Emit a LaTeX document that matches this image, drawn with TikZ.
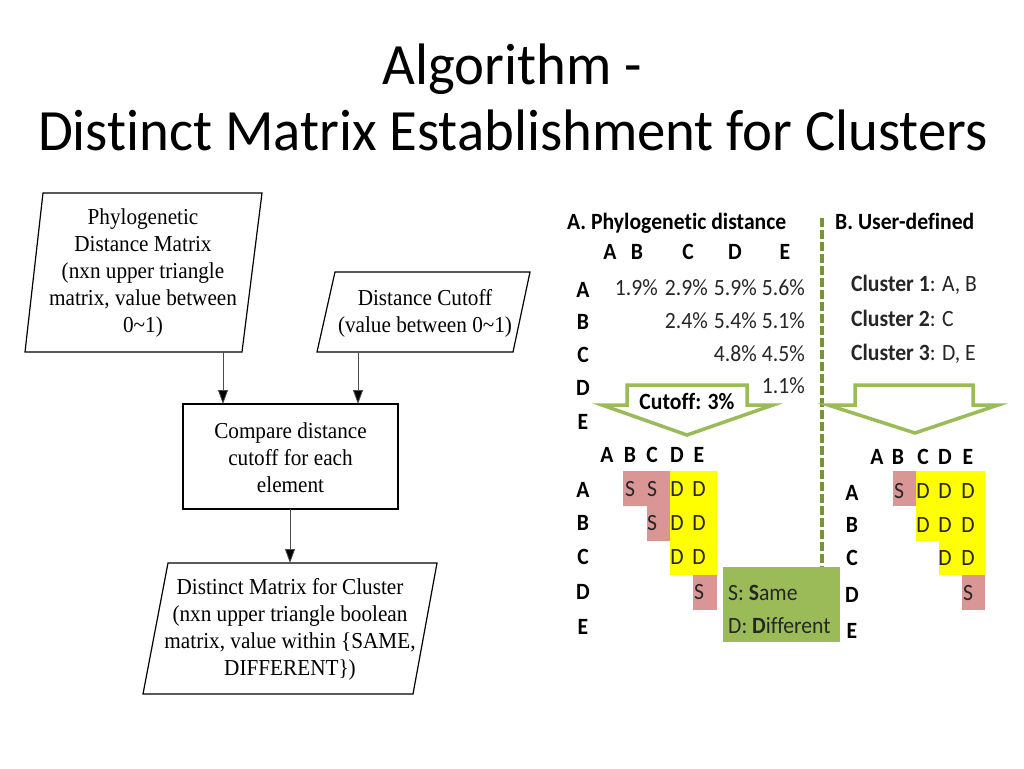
\documentclass[tikz,border=0pt]{standalone}
\usepackage{fontspec}
\setmainfont{Liberation Serif}
\newfontfamily\calibri[Ligatures=NoCommon]{Carlito}
\usetikzlibrary{arrows.meta}
\definecolor{agreen}{HTML}{9BBB59}
\definecolor{dgreen}{HTML}{77933C}
\definecolor{pinkc}{HTML}{D99694}
\definecolor{yelc}{HTML}{FFFF00}
\definecolor{txt}{HTML}{262626}
\begin{document}
\begin{tikzpicture}[x=1pt,y=-1pt,
  sq/.style={xscale=0.93},
  ttl/.style={font=\calibri\fontsize{58.5}{60}\selectfont, inner sep=0pt, anchor=base, xscale=0.97},
  ft/.style={font=\fontsize{22.8}{27}\selectfont, align=center, inner sep=0pt},
  box/.style={draw=black, line width=1.2pt},
  arr/.style={draw=black!70, line width=0.8pt, -{Triangle[length=14pt,width=10pt,fill=black]}},
  hd/.style={font=\calibri\bfseries\fontsize{23.3}{24}\selectfont, inner sep=0pt, text=black, sq},
  val/.style={font=\calibri\fontsize{23.3}{24}\selectfont, inner sep=0pt, anchor=east, text=txt, sq},
  cl/.style={font=\calibri\fontsize{23.3}{24}\selectfont, inner sep=0pt, anchor=base west, text=txt, sq},
  lt/.style={font=\calibri\fontsize{23.3}{24}\selectfont, inner sep=0pt, text=txt, sq},
  bigarrow/.style={draw=agreen, line width=3.5pt, fill=white, line join=miter},
]
\useasboundingbox (0,0) rectangle (1024,768);
\fill[white] (0,0) rectangle (1024,768);

% Title
\node[ttl] (t1) at (512,84) {Algorithm -};
\node[ttl] (t2) at (513,150) {Distinct Matrix Establishment for Clusters};

% ---------- Flowchart ----------
\draw[box] (43,193) -- (262,193) -- (242,352) -- (25,352) -- cycle;
\node[ft, sq] (b1) at (143,273.5) {Phylogenetic\\Distance Matrix\\(nxn upper triangle\\matrix, value between\\0\textasciitilde1)};
\draw[box] (335,272) -- (530,272) -- (513,352) -- (317,352) -- cycle;
\node[ft, sq] (b2) at (425,313) {Distance Cutoff\\(value between 0\textasciitilde1)};
\draw[box] (183,404) rectangle (398,509);
\node[ft, sq] (b3t) at (290.5,458) {Compare distance\\cutoff for each\\element};
\coordinate (b3n) at (290.5,404);
\coordinate (b3s) at (290.5,509);
\draw[box] (168,563) -- (437,563) -- (413,694) -- (143,694) -- cycle;
\node[ft, sq] (b4) at (290,629.5) {Distinct Matrix for Cluster\\(nxn upper triangle boolean\\matrix, value within \{SAME,\\DIFFERENT\})};

\coordinate (b1s) at (223,352);
\coordinate (b2s) at (358,352);
\coordinate (b4n) at (290,563);
\draw[arr] (b1s) -- (b1s |- b3n);
\draw[arr] (b2s) -- (b2s |- b3n);
\draw[arr] (b3s -| b4n) -- (b4n);

% ---------- Right panel ----------
\draw[dgreen, line width=4pt, dash pattern=on 9pt off 3pt] (822,218) -- (822,567);

\node[hd, anchor=base west] (tA) at (567,229) {A. Phylogenetic distance};
\node[hd, anchor=base west] (tB) at (835,229) {B. User-defined};

% top matrix headers
\node[hd] (hA) at (610,252) {A};
\node[hd] (hB) at (637,252) {B};
\node[hd] (hC) at (688,252) {C};
\node[hd] (hD) at (735,252) {D};
\node[hd] (hE) at (785,252) {E};
\node[hd] (rA) at (583,290) {A};
\node[hd] (rB) at (583,322) {B};
\node[hd] (rC) at (583,355) {C};
\node[hd] (rD) at (583,388) {D};
\node[hd] (rE) at (583,422) {E};
% values
\node[val] (vAB) at (658,288) {1.9\%};
\node[val] (vAC) at (708,288) {2.9\%};
\node[val] (vAD) at (757,288) {5.9\%};
\node[val] (vAE) at (805,288) {5.6\%};
\node[val] (vBC) at (708,321) {2.4\%};
\node[val] (vBD) at (757,321) {5.4\%};
\node[val] (vBE) at (805,321) {5.1\%};
\node[val] (vCD) at (757,354) {4.8\%};
\node[val] (vCE) at (805,354) {4.5\%};
\node[val] (vDE) at (805,386) {1.1\%};

% cutoff arrow
\draw[bigarrow] (627,385) -- (747,385) -- (747,405) -- (773,405) -- (687,435) -- (602,405) -- (627,405) -- cycle;
\node[hd] (cut) at (687,401) {Cutoff: 3\%};

% clusters
\node[cl] (c1) at (851,291) {\bfseries Cluster 1\mdseries: A, B};
\node[cl] (c2) at (851,326) {\bfseries Cluster 2\mdseries: C};
\node[cl] (c3) at (851,360) {\bfseries Cluster 3\mdseries: D, E};

% user arrow
\draw[bigarrow] (855,385) -- (973,385) -- (973,405) -- (998,405) -- (915,433) -- (828,405) -- (855,405) -- cycle;

% lower matrix A
\fill[pinkc] (623,471) -- (670,471) -- (670,541) -- (647,541) -- (647,506) -- (623,506) -- cycle;
\fill[yelc] (670,471) rectangle (717,575);
\fill[pinkc] (693,575) rectangle (717,610);
\node[hd] (mAhA) at (607,455) {A};
\node[hd] (mAhB) at (630,455) {B};
\node[hd] (mAhC) at (652,455) {C};
\node[hd] (mAhD) at (677,455) {D};
\node[hd] (mAhE) at (699,455) {E};
\node[hd] (mArA) at (583,490) {A};
\node[hd] (mArB) at (583,523) {B};
\node[hd] (mArC) at (583,557) {C};
\node[hd] (mArD) at (583,592) {D};
\node[hd] (mArE) at (583,627) {E};
\node[lt] (aAB) at (630,489) {S};
\node[lt] (aAC) at (652,489) {S};
\node[lt] (aAD) at (677,489) {D};
\node[lt] (aAE) at (699,489) {D};
\node[lt] (aBC) at (652,523) {S};
\node[lt] (aBD) at (677,523) {D};
\node[lt] (aBE) at (699,523) {D};
\node[lt] (aCD) at (677,557) {D};
\node[lt] (aCE) at (699,557) {D};
\node[lt] (aDE) at (699,592) {S};

% lower matrix B
\fill[pinkc] (893,471) rectangle (916,506);
\fill[yelc] (916,471) -- (985,471) -- (985,575) -- (939,575) -- (939,541) -- (916,541) -- cycle;
\fill[pinkc] (962,575) rectangle (985,610);
\node[hd] (mBhA) at (877,457) {A};
\node[hd] (mBhB) at (898,457) {B};
\node[hd] (mBhC) at (923,457) {C};
\node[hd] (mBhD) at (945,457) {D};
\node[hd] (mBhE) at (968,457) {E};
\node[hd] (mBrA) at (852,493) {A};
\node[hd] (mBrB) at (852,525) {B};
\node[hd] (mBrC) at (852,558) {C};
\node[hd] (mBrD) at (852,595) {D};
\node[hd] (mBrE) at (852,631) {E};
\node[lt] (bAB) at (899,491) {S};
\node[lt] (bAC) at (923,491) {D};
\node[lt] (bAD) at (945,491) {D};
\node[lt] (bAE) at (968,491) {D};
\node[lt] (bBC) at (923,525) {D};
\node[lt] (bBD) at (945,525) {D};
\node[lt] (bBE) at (968,525) {D};
\node[lt] (bCD) at (945,558) {D};
\node[lt] (bCE) at (968,558) {D};
\node[lt] (bDE) at (968,593) {S};

% legend
\fill[agreen] (723,567) rectangle (840,642);
\node[cl] (l1) at (728,600) {S: \bfseries S\mdseries ame};
\node[cl] (l2) at (728,633) {D: \bfseries D\mdseries ifferent};
\end{tikzpicture}
\end{document}
